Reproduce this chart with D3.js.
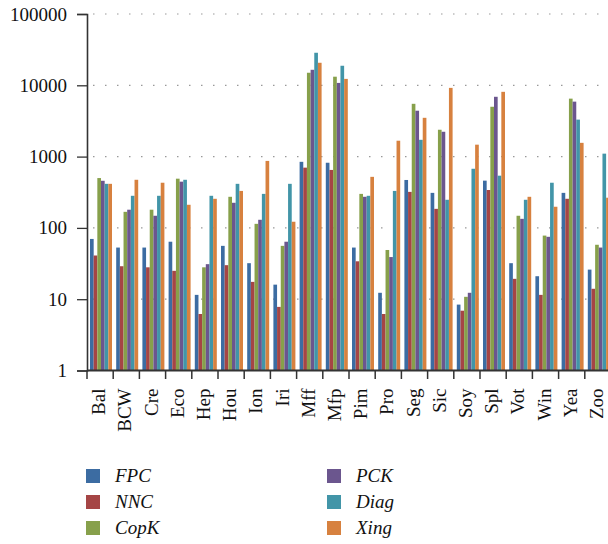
<!DOCTYPE html>
<html>
<head>
<meta charset="utf-8">
<script src="https://cdn.jsdelivr.net/npm/d3@7"></script>
<style>
  html, body { margin: 0; padding: 0; background: #fff; }
  svg { display: block; }
</style>
</head>
<body>
<svg id="chart" width="608" height="544" font-family="Liberation Serif"></svg>
<script>
const categories = ["Bal","BCW","Cre","Eco","Hep","Hou","Ion","Iri","Mff","Mfp","Pim","Pro","Seg","Sic","Soy","Spl","Vot","Win","Yea","Zoo"];
const seriesNames = ["FPC","NNC","CopK","PCK","Diag","Xing"];
const seriesColors = ["#3c6ca2","#a54545","#87a04b","#6b568e","#4295a8","#d7813f"];
const FPC  = [70, 53, 53, 64, 11.5, 56, 32, 16, 845, 820, 53, 12.3, 470, 310, 8.4, 460, 32, 21, 310, 26];
const NNC  = [41, 29, 28, 25, 6.2, 30, 17.5, 7.8, 700, 650, 34, 6.2, 320, 185, 6.9, 340, 19.3, 11.5, 256, 14];
const CopK = [500, 168, 180, 490, 28, 273, 114, 56, 15000, 13200, 300, 49, 5500, 2380, 10.8, 5000, 148, 78, 6500, 58];
const PCK  = [458, 180, 148, 445, 31, 225, 130, 64, 16500, 10800, 273, 39, 4400, 2230, 12.3, 6900, 134, 75, 5900, 53];
const Diag = [415, 282, 282, 473, 282, 415, 300, 415, 28600, 18800, 282, 330, 1720, 248, 675, 540, 248, 430, 3300, 1100];
const Xing = [415, 473, 430, 211, 256, 330, 870, 122, 20700, 12300, 520, 1670, 3500, 9200, 1470, 8100, 273, 198, 1560, 265];
const seriesValues = [FPC, NNC, CopK, PCK, Diag, Xing];
const yTicks = [1, 10, 100, 1000, 10000, 100000];

const FONT = "Liberation Serif";
const svg = d3.select("#chart");
const mLeft = 87, mTop = 14, mBottom = 370.5;
const bandW = 26.2;
const x0 = d3.scaleBand().domain(categories).range([mLeft, mLeft + bandW * categories.length]).padding(0);
const x1 = d3.scaleBand().domain(seriesNames).range([3, 25]).padding(0);
const y = d3.scaleLog().domain([1, 100000]).range([mBottom, mTop]);

// grid
svg.append("g").selectAll("line").data(yTicks.slice(1)).join("line")
  .attr("x1", mLeft).attr("x2", 608)
  .attr("y1", d => y(d)).attr("y2", d => y(d))
  .attr("stroke", "#999").attr("stroke-width", 1.2)
  .attr("stroke-dasharray", "1.5,10.5").attr("stroke-dashoffset", -6);

// bars
const groups = svg.append("g").selectAll("g").data(categories).join("g")
  .attr("transform", d => `translate(${x0(d)},0)`);
groups.selectAll("rect").data((c, i) => seriesNames.map((s, j) => ({s, v: seriesValues[j][i], j})))
  .join("rect")
  .attr("x", d => x1(d.s)).attr("width", x1.bandwidth())
  .attr("y", d => y(d.v)).attr("height", d => mBottom - y(d.v))
  .attr("fill", d => seriesColors[d.j]);

// y axis
const yAxis = d3.axisLeft(y).tickValues(yTicks).tickFormat(d3.format("d")).tickSize(10).tickPadding(10);
const gy = svg.append("g").attr("transform", `translate(${mLeft},0)`).call(yAxis);
gy.attr("font-family", FONT).attr("font-size", 19);
gy.select(".domain").attr("stroke", "#333").attr("stroke-width", 1.6);
gy.selectAll(".tick line").attr("stroke", "#333").attr("stroke-width", 1.3);
gy.selectAll("text").attr("font-family", FONT).attr("font-size", 19).attr("fill", "#111");

// x axis line & ticks at band boundaries
svg.append("line").attr("x1", mLeft).attr("x2", 612).attr("y1", mBottom).attr("y2", mBottom)
  .attr("stroke", "#333").attr("stroke-width", 1.8);
svg.append("g").selectAll("line").data(categories).join("line")
  .attr("x1", d => x0(d)).attr("x2", d => x0(d))
  .attr("y1", mBottom).attr("y2", mBottom + 8.5)
  .attr("stroke", "#333").attr("stroke-width", 1.5);

// x labels
svg.append("g").selectAll("text").data(categories).join("text")
  .attr("transform", d => `translate(${x0(d) + 11.5},${mBottom + 18}) rotate(-90)`)
  .attr("text-anchor", "end").attr("dy", "0.35em")
  .attr("font-family", FONT).attr("font-size", 19).attr("fill", "#111")
  .text(d => d);

// legend
const legend = svg.append("g");
seriesNames.forEach((s, i) => {
  const col = Math.floor(i / 3), row = i % 3;
  const lx = col === 0 ? 86 : 327;
  const ly = 469 + row * 26;
  legend.append("rect").attr("x", lx).attr("y", ly).attr("width", 14).attr("height", 14)
    .attr("fill", seriesColors[i]);
  legend.append("text").attr("x", lx + 29).attr("y", ly + 13)
    .attr("font-family", FONT).attr("font-size", 19).attr("font-style", "italic").attr("fill", "#111")
    .text(s);
});
</script>
</body>
</html>
